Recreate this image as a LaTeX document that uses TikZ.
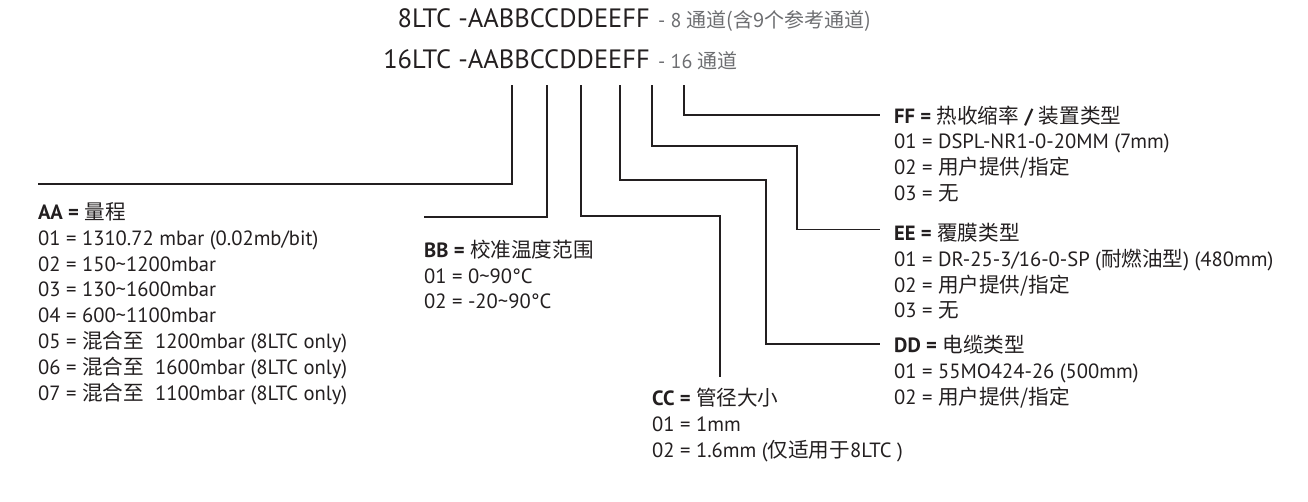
\documentclass[tikz,border=0pt]{standalone}
\usepackage{fontspec}
\setmainfont{PT Sans}
\newfontfamily\cjk{Noto Sans CJK SC}
\usepackage{xcolor}
\usetikzlibrary{positioning}
\newcommand\zh[1]{{\cjk #1}}
\definecolor{ink}{HTML}{231F20}
\definecolor{note}{HTML}{6D6E71}
\tikzset{
    code/.style={inner sep=0pt, text=ink, font=\fontsize{26.5}{32}\selectfont},
    remark/.style={inner sep=0pt, text=note, font=\fontsize{20}{24}\selectfont},
    head/.style={inner sep=0pt, text=ink, font=\fontsize{20.6}{25.8}\selectfont},
    entry/.style={inner sep=0pt, text=ink, font=\fontsize{20.6}{25.8}\selectfont},
    leader/.style={draw=ink, line width=1.3pt}
}
\begin{document}
\begin{tikzpicture}[x=1pt, y=-1pt]
        \useasboundingbox (0,0) rectangle (1308,501);

        % Part numbers
        \node[code, anchor=base east] (code8) at (650,27) {8LTC -AABBCCDDEEFF};
        \node[remark, anchor=base west] (rem8) at ([xshift=8pt]code8.base east) {- 8 \zh{通道(含9个参考通道)}};
        \node[code, anchor=base east] (code16) at (650,68) {16LTC -AABBCCDDEEFF};
        \node[remark, anchor=base west] (rem16) at ([xshift=8pt]code16.base east) {- 16 \zh{通道}};

        % Field tops
        \coordinate (aTop) at (512,85);
        \coordinate (bTop) at (547,85);
        \coordinate (cTop) at (581,85);
        \coordinate (dTop) at (620,85);
        \coordinate (eTop) at (652,85);
        \coordinate (fTop) at (684,85);

        % AA
        \node[head, anchor=base west] (aaH) at (38,219.5) {\textbf{AA =} \zh{量程}};
        \foreach \txt [count=\i] in {{01 = 1310.72 mbar (0.02mb/bit)}, {02 = 150\textasciitilde1200mbar}, {03 = 130\textasciitilde1600mbar}, {04 = 600\textasciitilde1100mbar}, {05 = \zh{混合至}\hspace{0.55em}1200mbar (8LTC only)}, {06 = \zh{混合至}\hspace{0.55em}1600mbar (8LTC only)}, {07 = \zh{混合至}\hspace{0.55em}1100mbar (8LTC only)}}
            \node[entry, anchor=base west] (aa\i) at ([yshift=-\i*25.8pt]aaH.base west) {\txt};

        % BB
        \node[head, anchor=base west] (bbH) at (424,257.5) {\textbf{BB =} \zh{校准温度范围}};
        \foreach \txt [count=\i] in {{01 = 0\textasciitilde90°C}, {02 = -20\textasciitilde90°C}}
            \node[entry, anchor=base west] (bb\i) at ([yshift=-\i*25.5pt]bbH.base west) {\txt};

        % CC
        \node[head, anchor=base west] (ccH) at (652,405.5) {\textbf{CC =} \zh{管径大小}};
        \foreach \txt [count=\i] in {{01 = 1mm}, {02 = 1.6mm (\zh{仅适用于}8LTC )}}
            \node[entry, anchor=base west] (cc\i) at ([yshift=-\i*26pt]ccH.base west) {\txt};

        % FF
        \node[head, anchor=base west] (ffH) at (894,123) {\textbf{FF =} \zh{热收缩率} \textbf{/} \zh{装置类型}};
        \foreach \txt [count=\i] in {{01 = DSPL-NR1-0-20MM (7mm)}, {02 = \zh{用户提供/指定}}, {03 = \zh{无}}}
            \node[entry, anchor=base west] (ff\i) at ([yshift=-\i*25.8pt]ffH.base west) {\txt};

        % EE
        \node[head, anchor=base west] (eeH) at (894,240.5) {\textbf{EE =} \zh{覆膜类型}};
        \foreach \txt [count=\i] in {{01 = DR-25-3/16-0-SP (\zh{耐燃油型}) (480mm)}, {02 = \zh{用户提供/指定}}, {03 = \zh{无}}}
            \node[entry, anchor=base west] (ee\i) at ([yshift=-\i*25.8pt]eeH.base west) {\txt};

        % DD
        \node[head, anchor=base west] (ddH) at (894,352) {\textbf{DD =} \zh{电缆类型}};
        \foreach \txt [count=\i] in {{01 = 55MO424-26 (500mm)}, {02 = \zh{用户提供/指定}}}
            \node[entry, anchor=base west] (dd\i) at ([yshift=-\i*26pt]ddH.base west) {\txt};

        % Leaders
        \draw[leader] (aTop) |- ([yshift=35.5pt]aaH.base west);
        \draw[leader] (bTop) |- ([yshift=40.5pt]bbH.base west);
        \coordinate (cEnd) at ([xshift=68pt,yshift=28.5pt]ccH.base west);
        \draw[leader] (cTop) |- ([yshift=161pt]cEnd) -- (cEnd);
        \draw[leader] (dTop) |- ++(146,95) |- ([xshift=-14pt,yshift=8pt]ddH.base west);
        \draw[leader] (eTop) |- ++(145,61) |- ([xshift=-14pt,yshift=11pt]eeH.base west);
        \draw[leader] (fTop) |- ([xshift=-14pt,yshift=8pt]ffH.base west);

    \end{tikzpicture}
\end{document}
